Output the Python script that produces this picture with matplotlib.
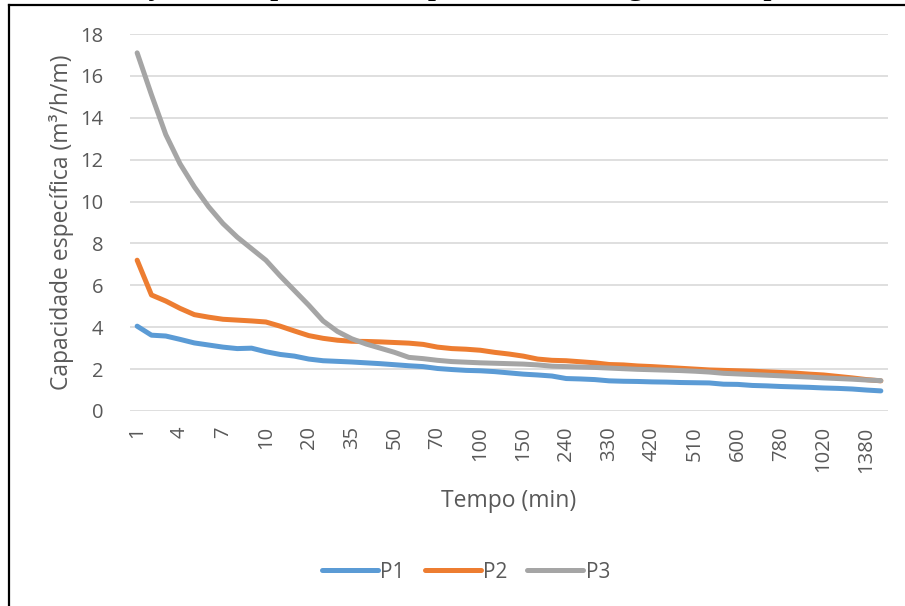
import numpy as np
import matplotlib
matplotlib.use("Agg")
import matplotlib.pyplot as plt
from matplotlib.lines import Line2D

plt.rcParams["font.family"] = ["Open Sans", "DejaVu Sans"]

# Tempo (min) - categorias do eixo x
tempo = [1, 2, 3, 4, 5, 6, 7, 8, 9, 10, 12, 15, 20, 25, 30, 35, 40, 45, 50, 55,
         60, 70, 80, 90, 100, 120, 135, 150, 180, 210, 240, 270, 300, 330, 360,
         390, 420, 450, 480, 510, 540, 570, 600, 660, 720, 780, 860, 940, 1020,
         1140, 1260, 1380, 1440]

# Capacidade especifica (m3/h/m)
p1 = [4.05, 3.62, 3.58, 3.42, 3.25, 3.15, 3.05, 2.98, 3.00, 2.83, 2.70, 2.62,
      2.48, 2.40, 2.37, 2.34, 2.30, 2.26, 2.21, 2.16, 2.12, 2.03, 1.98, 1.94,
      1.92, 1.88, 1.82, 1.76, 1.72, 1.67, 1.55, 1.53, 1.50, 1.44, 1.42, 1.41,
      1.39, 1.38, 1.36, 1.35, 1.34, 1.28, 1.27, 1.22, 1.20, 1.17, 1.15, 1.13,
      1.10, 1.08, 1.05, 1.00, 0.96]
p2 = [7.20, 5.54, 5.25, 4.90, 4.60, 4.48, 4.38, 4.34, 4.30, 4.25, 4.05, 3.82,
      3.60, 3.47, 3.38, 3.33, 3.32, 3.30, 3.27, 3.24, 3.18, 3.05, 2.98, 2.95,
      2.90, 2.80, 2.72, 2.62, 2.48, 2.42, 2.40, 2.35, 2.30, 2.22, 2.20, 2.15,
      2.12, 2.08, 2.04, 2.00, 1.96, 1.94, 1.92, 1.90, 1.87, 1.84, 1.81, 1.76,
      1.72, 1.65, 1.58, 1.50, 1.44]
p3 = [17.10, 15.10, 13.20, 11.80, 10.70, 9.75, 8.95, 8.30, 7.75, 7.20, 6.45,
      5.75, 5.05, 4.30, 3.80, 3.45, 3.20, 3.00, 2.80, 2.56, 2.50, 2.42, 2.36,
      2.33, 2.30, 2.28, 2.26, 2.24, 2.20, 2.14, 2.12, 2.10, 2.08, 2.05, 2.02,
      1.99, 1.97, 1.95, 1.93, 1.90, 1.86, 1.80, 1.77, 1.74, 1.71, 1.68, 1.65,
      1.62, 1.58, 1.55, 1.52, 1.48, 1.45]

series = {"P1": (p1, "#5B9BD5"), "P2": (p2, "#ED7D31"), "P3": (p3, "#A5A5A5")}
text_color = "#595959"

fig = plt.figure(figsize=(9.05, 6.06), dpi=100)
ax = fig.add_axes([130 / 905, 1 - 411 / 606, 758 / 905, 377 / 606])

x = np.arange(len(tempo))
for name, (vals, color) in series.items():
    ax.plot(x, vals, color=color, lw=3.6, solid_capstyle="round",
            solid_joinstyle="round", label=name)

ax.set_xlim(-0.5, len(tempo) - 0.5)
ax.set_ylim(0, 18)
ax.set_yticks(range(0, 19, 2))
ax.set_xticks(x[::3])
ax.set_xticklabels([str(t) for t in tempo[::3]], rotation=90)
ax.grid(axis="y", color="#D9D9D9", lw=1.2)
ax.set_axisbelow(True)
for s in ax.spines.values():
    s.set_visible(False)
ax.tick_params(length=0, labelsize=14.5, colors=text_color)
ax.tick_params(axis="y", pad=19)
ax.tick_params(axis="x", pad=11)

ax.set_xlabel("Tempo (min)", fontsize=16.5, color=text_color, labelpad=12)
ax.set_ylabel("Capacidade específica (m³/h/m)", fontsize=16.5,
              color=text_color, labelpad=5)

ax.legend(loc="center", bbox_to_anchor=(466 / 905, 1 - 572 / 606),
          bbox_transform=fig.transFigure, ncol=3, frameon=False,
          fontsize=15, handlelength=2.7, columnspacing=0.95, handletextpad=0.1,
          labelcolor=text_color)

# legenda da figura, cortada no topo da imagem
fig.text(72 / 905, 1 + 6 / 606, "Variação da capacidade específica ao longo do tempo",
         family="Liberation Serif", fontsize=24.5, color="black",
         ha="left", va="baseline")

# borda do quadro (recortada)
fig.add_artist(Line2D([9 / 905, 9 / 905], [0, 1 - 5 / 606], color="black",
                      lw=1.6, transform=fig.transFigure))
fig.add_artist(Line2D([9 / 905, 1], [1 - 5 / 606, 1 - 5 / 606], color="black",
                      lw=1.6, transform=fig.transFigure))

fig.savefig("out.png", dpi=100)
